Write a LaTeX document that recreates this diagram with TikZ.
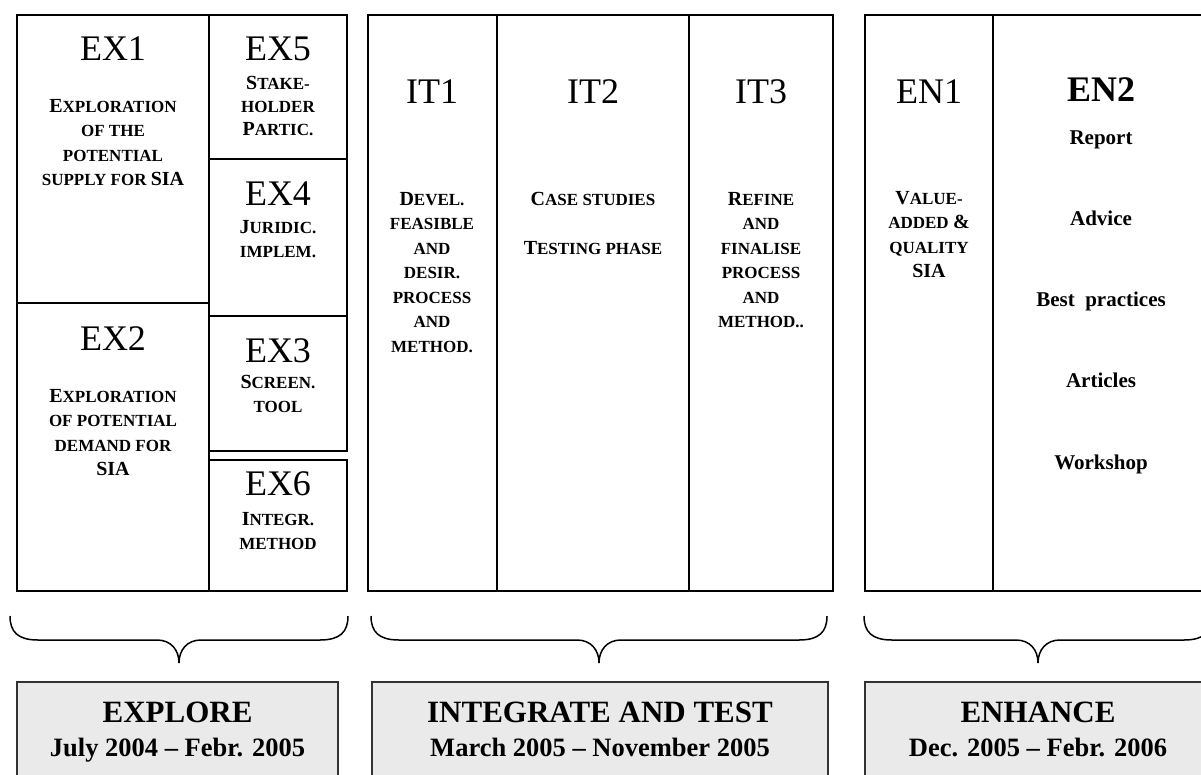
\documentclass[tikz,border=0pt]{standalone}
\usepackage{fontspec}
\setmainfont{Liberation Serif}
\usetikzlibrary{fit}
\definecolor{phasefill}{HTML}{EAEAEA}
% small-caps imitation: full-size capital, then reduced capitals
\newcommand\capA[2]{{\fontsize{20}{24.5}\selectfont #1}{\fontsize{17}{24.5}\selectfont #2}}
\newcommand\capB[1]{{\fontsize{17}{24.5}\selectfont #1}}
\tikzset{
  cell/.style={draw, line width=1.6pt, inner sep=0pt},
  phase/.style={draw=black!80, line width=1.4pt, fill=phasefill, inner sep=0pt},
  code/.style={anchor=base, inner sep=0pt, font=\fontsize{36}{40}\selectfont},
  % multi-line descriptions are placed by the baseline of their last line
  desc/.style={anchor=base, inner sep=0pt, align=center, font=\bfseries\fontsize{17}{24.5}\selectfont},
  brace/.style={line width=1.5pt},
}
\begin{document}
\begin{tikzpicture}[x=1pt,y=-1pt]
\useasboundingbox (0,0) rectangle (1201,774);

% ---- EXPLORE work packages
\node[cell, fit={(17,15) (209,303)}]  (ex1) {};
\node[cell, fit={(17,303) (209,591)}] (ex2) {};
\node[cell, fit={(209,15) (347,159)}] (ex5) {};
\node[cell, fit={(209,159) (347,316)}] (ex4) {};
\node[cell, fit={(209,316) (347,451)}] (ex3) {};
\node[cell, fit={(209,460) (347,591)}] (ex6) {};

\node[code] (ex1c) at (113,60) {EX1};
\node[desc] (ex1d) at (113,185.5) {\capA{E}{XPLORATION}\\\capB{OF THE}\\\capB{POTENTIAL}\\\capB{SUPPLY FOR }\capA{SIA}{}};
\node[code] (ex5c) at (278,60) {EX5};
\node[desc, font=\bfseries\fontsize{17}{23}\selectfont] (ex5d) at (278,135) {\capA{S}{TAKE-}\\\capB{HOLDER}\\\capA{P}{ARTIC.}};
\node[code] (ex4c) at (278,205) {EX4};
\node[desc, font=\bfseries\fontsize{17}{24}\selectfont] (ex4d) at (278,257) {\capA{J}{URIDIC.}\\\capB{IMPLEM.}};
\node[code] (ex2c) at (113,350) {EX2};
\node[desc] (ex2d) at (113,475.5) {\capA{E}{XPLORATION}\\\capB{OF POTENTIAL}\\\capB{DEMAND FOR}\\\capA{SIA}{}};
\node[code] (ex3c) at (278,362) {EX3};
\node[desc] (ex3d) at (278,412.5) {\capA{S}{CREEN.}\\\capB{TOOL}};
\node[code] (ex6c) at (278,495) {EX6};
\node[desc] (ex6d) at (278,549.5) {\capA{I}{NTEGR.}\\\capB{METHOD}};

% ---- INTEGRATE AND TEST work packages
\node[cell, fit={(368,15) (497,591)}] (it1) {};
\node[cell, fit={(497,15) (689,591)}] (it2) {};
\node[cell, fit={(689,15) (833,591)}] (it3) {};

\node[code] (it1c) at (432,103) {IT1};
\node[desc] (it1d) at (432,352) {\capA{D}{EVEL.}\\\capB{FEASIBLE}\\\capB{AND}\\\capB{DESIR.}\\\capB{PROCESS}\\\capB{AND}\\\capB{METHOD.}};
\node[code] (it2c) at (593,103) {IT2};
\node[desc] (it2d) at (593,254) {\capA{C}{ASE STUDIES}\\[24.5pt]\capA{T}{ESTING PHASE}};
\node[code] (it3c) at (761,103) {IT3};
\node[desc] (it3d) at (761,327.5) {\capA{R}{EFINE}\\\capB{AND}\\\capB{FINALISE}\\\capB{PROCESS}\\\capB{AND}\\\capB{METHOD..}};

% ---- ENHANCE work packages
\node[cell, fit={(865,15) (993,591)}]  (en1) {};
\node[cell, fit={(993,15) (1209,591)}] (en2) {};

\node[code] (en1c) at (929,103) {EN1};
\node[desc] (en1d) at (929,277.5) {\capA{V}{ALUE-}\\\capB{ADDED }\capA{\&}{}\\\capB{QUALITY}\\\capA{SIA}{}};
\node[code, font=\bfseries\fontsize{36}{40}\selectfont] (en2c) at (1101,101) {EN2};
\node[desc, font=\bfseries\fontsize{21}{81.25}\selectfont] (en2d) at (1101,469) {Report\\Advice\\Best~~practices\\Articles\\Workshop};

% ---- braces
\draw[brace] (10,616) .. controls (10,632) and (18,640) .. (38,640) -- (157,640)
  .. controls (171,640) and (179,650) .. (179,663)
  .. controls (179,650) and (187,640) .. (201,640) -- (320,640)
  .. controls (340,640) and (348,632) .. (348,616);
\draw[brace] (371,616) .. controls (371,632) and (379,640) .. (399,640) -- (577,640)
  .. controls (591,640) and (599,650) .. (599,663)
  .. controls (599,650) and (607,640) .. (621,640) -- (799,640)
  .. controls (819,640) and (827,632) .. (827,616);
\draw[brace] (864,616) .. controls (864,632) and (872,640) .. (892,640) -- (1016,640)
  .. controls (1030,640) and (1038,650) .. (1038,663)
  .. controls (1038,650) and (1046,640) .. (1060,640) -- (1184,640)
  .. controls (1204,640) and (1212,632) .. (1212,616);

% ---- phases
\node[phase, fit={(17,682) (338,778)}]  (explore) {};
\node[phase, fit={(372,682) (828,778)}] (integrate) {};
\node[phase, fit={(865,682) (1211,778)}] (enhance) {};

\tikzset{ptitle/.style={anchor=base, inner sep=0pt, font=\bfseries\fontsize{31}{34}\selectfont},
         pdate/.style={anchor=base, inner sep=0pt, font=\bfseries\fontsize{26.5}{30}\selectfont}}
\node[ptitle] (exploret) at (177.5,722) {EXPLORE};
\node[pdate]  (exploredt) at (177.5,756) {July 2004 – Febr. 2005};
\node[ptitle] (integratet) at (600,722) {INTEGRATE AND TEST};
\node[pdate]  (integratedt) at (600,756) {March 2005 – November 2005};
\node[ptitle] (enhancet) at (1038,722) {ENHANCE};
\node[pdate]  (enhancedt) at (1038,756) {Dec. 2005 – Febr. 2006};
\end{tikzpicture}
\end{document}
